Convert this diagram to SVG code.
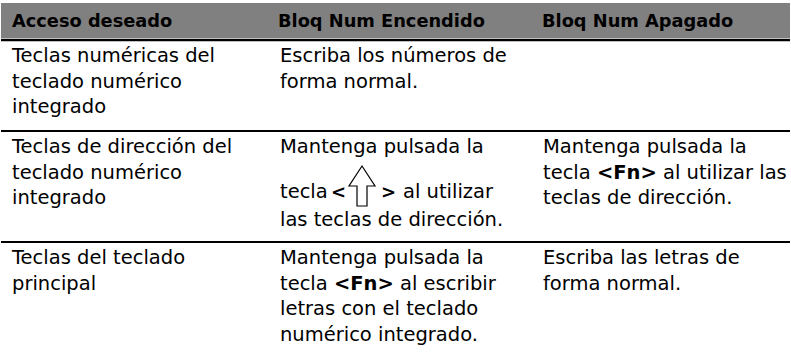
<svg xmlns="http://www.w3.org/2000/svg" width="791" height="358" viewBox="0 0 791 358">
<style>
  text { font-family: "DejaVu Sans", "Liberation Sans", sans-serif; font-size: 19.5px; fill: #000; }
  .hd { font-weight: bold; font-size: 17.8px; }
  .b { font-weight: bold; }
  .k { font-weight: bold; font-size: 18px; }
  .rule { stroke: #000; stroke-width: 2; }
  .arrow { fill: #fff; stroke: #000; stroke-width: 1.2; stroke-linejoin: miter; }
</style>
<rect width="791" height="358" fill="#fff"/>
<g id="header">
  <rect x="1" y="3" width="789" height="35" fill="#808080"/>
  <text class="hd" x="12" y="27">Acceso deseado</text>
  <text class="hd" x="278" y="27">Bloq Num Encendido</text>
  <text class="hd" x="542" y="27">Bloq Num Apagado</text>
</g>
<g id="rules">
  <line class="rule" x1="1" y1="40" x2="790" y2="40" style="stroke-width:2.5"/>
  <line class="rule" x1="1" y1="131" x2="790" y2="131"/>
  <line class="rule" x1="1" y1="242" x2="790" y2="242"/>
</g>
<g id="row1">
  <text x="12" y="62">Teclas numéricas del</text>
  <text x="12" y="88">teclado numérico</text>
  <text x="12" y="113">integrado</text>
  <text x="280" y="62">Escriba los números de</text>
  <text x="280" y="88">forma normal.</text>
</g>
<g id="row2">
  <text x="12" y="153">Teclas de dirección del</text>
  <text x="12" y="179">teclado numérico</text>
  <text x="12" y="204">integrado</text>
  <text x="280" y="153">Mantenga pulsada la</text>
  <text x="280" y="198">tecla</text>
  <text class="k" x="331" y="198">&lt;</text>
  <path class="arrow" d="M362,166 L375,186 L367,186 L367,206 L357,206 L357,186 L349,186 Z"/>
  <text class="k" x="381" y="198">&gt;</text>
  <text x="403" y="198">al utilizar</text>
  <text x="280" y="226">las teclas de dirección.</text>
  <text x="543" y="153">Mantenga pulsada la</text>
  <text x="543" y="179">tecla <tspan class="b">&lt;Fn&gt;</tspan> al utilizar las</text>
  <text x="543" y="204">teclas de dirección.</text>
</g>
<g id="row3">
  <text x="12" y="264">Teclas del teclado</text>
  <text x="12" y="290">principal</text>
  <text x="280" y="264">Mantenga pulsada la</text>
  <text x="280" y="290">tecla <tspan class="b">&lt;Fn&gt;</tspan> al escribir</text>
  <text x="280" y="315">letras con el teclado</text>
  <text x="280" y="341">numérico integrado.</text>
  <text x="543" y="264">Escriba las letras de</text>
  <text x="543" y="290">forma normal.</text>
</g>
</svg>
